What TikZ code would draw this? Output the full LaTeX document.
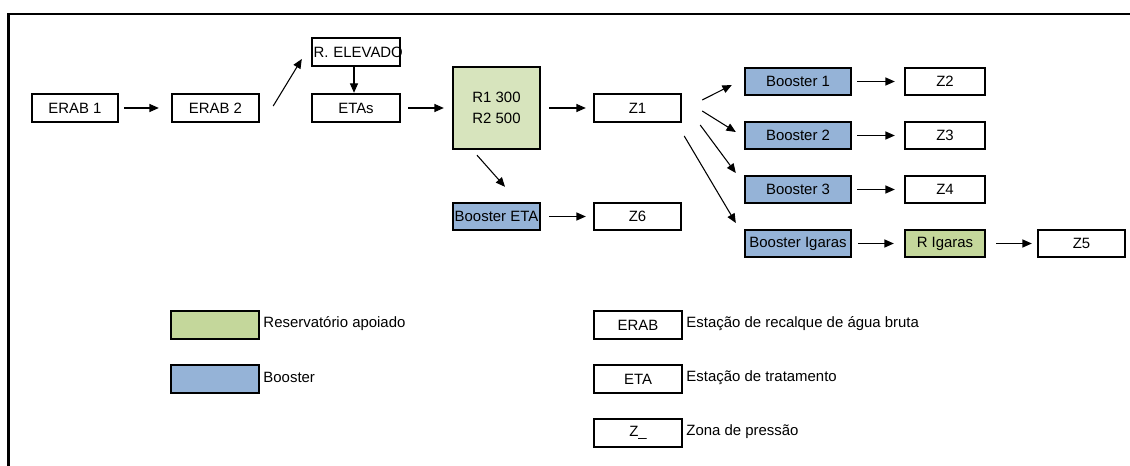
\documentclass[tikz,border=0pt]{standalone}
\usepackage{fontspec}
\setmainfont{Liberation Sans}
\usetikzlibrary{arrows.meta}
\definecolor{resgreen}{HTML}{D7E4BD}
\definecolor{legreen}{HTML}{C4D79B}
\definecolor{boostblue}{HTML}{95B3D7}
\begin{document}
\begin{tikzpicture}[x=0.75pt,y=-0.75pt,
  font=\fontsize{11.2}{13.5}\selectfont,
  box/.style={draw=black, line width=1.8pt, inner sep=0pt, text=black},
  wh/.style 2 args={minimum width=#1*0.75pt, minimum height=#2*0.75pt},
  arr/.style={-{Triangle[length=7pt,width=6pt]}, line width=0.8pt},
  lbl/.style={anchor=west, inner sep=0pt}]
\useasboundingbox (0,0) rectangle (1130,466);
% frame
\draw[line width=1.6pt] (1130,14) -- (8.5,14) -- (8.5,466);
% main nodes
\node[box, wh={86}{28}] (erab1) at (75,108) {ERAB 1};
\node[box, wh={87}{28}] (erab2) at (215.5,108) {ERAB 2};
\node[box, wh={88}{28}, text width=85*0.75pt, align=left] (relev) at (356,52) {\mbox{R. ELEVADO}};
\node[box, wh={88}{28}] (etas) at (356,108) {ETAs};
\node[box, fill=resgreen, wh={87}{82}, align=center, font=\fontsize{11.2}{15.75}\selectfont] (res) at (496.5,108) {R1 300\\R2 500};
\node[box, fill=boostblue, wh={87}{27}] (beta) at (496.5,216.5) {Booster ETA};
\node[box, wh={87}{28}] (z1) at (637.5,108) {Z1};
\node[box, wh={87}{27}] (z6) at (637.5,216.5) {Z6};
\node[box, fill=boostblue, wh={106}{27}] (b1) at (798,81.5) {Booster 1};
\node[box, fill=boostblue, wh={106}{27}] (b2) at (798,135.5) {Booster 2};
\node[box, fill=boostblue, wh={106}{27}] (b3) at (798,189.5) {Booster 3};
\node[box, fill=boostblue, wh={106}{27}] (big) at (798,243.5) {Booster Igaras};
\node[box, wh={80}{27}] (z2) at (945,81.5) {Z2};
\node[box, wh={80}{27}] (z3) at (945,135.5) {Z3};
\node[box, wh={80}{27}] (z4) at (945,189.5) {Z4};
\node[box, fill=legreen, wh={80}{27}] (rig) at (945,243.5) {R Igaras};
\node[box, wh={87}{27}] (z5) at (1081.5,243.5) {Z5};
% arrows
\draw[arr] ([shift={(5,0)}]erab1.east) -- ([shift={(-12,0)}]erab2.west);
\draw[arr] ([shift={(13,-2)}]erab2.east) -- ([shift={(-9,7)}]relev.west);
\draw[arr] ([shift={(-2,0)}]relev.south) -- ([shift={(-2,0)}]etas.north);
\draw[arr] ([shift={(7,0)}]etas.east) -- ([shift={(-8,0)}]res.west);
\draw[arr] ([shift={(-19.5,5)}]res.south) -- ([shift={(8.5,-15)}]beta.north);
\draw[arr] ([shift={(8,0)}]res.east) -- ([shift={(-7,0)}]z1.west);
\draw[arr] ([shift={(8,0)}]beta.east) -- ([shift={(-7,0)}]z6.west);
\draw[arr] ([shift={(20,-8)}]z1.east) -- ([shift={(-12,3.5)}]b1.west);
\draw[arr] ([shift={(20,3)}]z1.east) -- ([shift={(-8,-3.5)}]b2.west);
\draw[arr] ([shift={(18,17)}]z1.east) -- ([shift={(-8,-16.5)}]b3.west);
\draw[arr] ([shift={(2,28)}]z1.east) -- ([shift={(-8,-20.5)}]big.west);
\draw[arr] ([shift={(5,0)}]b1.east) -- ([shift={(-9,0)}]z2.west);
\draw[arr] ([shift={(5,0)}]b2.east) -- ([shift={(-9,0)}]z3.west);
\draw[arr] ([shift={(5,0)}]b3.east) -- ([shift={(-9,0)}]z4.west);
\draw[arr] ([shift={(6,0)}]big.east) -- ([shift={(-10,0)}]rig.west);
\draw[arr] ([shift={(10,0)}]rig.east) -- ([shift={(-5,0)}]z5.west);
% legend
\node[box, fill=legreen, wh={88}{28}] (lgreen) at (215,325) {};
\node[lbl] (tgreen) at ([xshift=2.25pt,yshift=1pt]lgreen.east) {Reservatório apoiado};
\node[box, fill=boostblue, wh={88}{28}] (lblue) at (215,379) {};
\node[lbl] (tblue) at ([xshift=2.25pt,yshift=1pt]lblue.east) {Booster};
\node[box, wh={88}{28}] (lerab) at (638,325) {ERAB};
\node[lbl] (terab) at ([xshift=2.25pt,yshift=1pt]lerab.east) {Estação de recalque de água bruta};
\node[box, wh={88}{28}] (leta) at (638,379) {ETA};
\node[lbl] (teta) at ([xshift=2.25pt,yshift=1pt]leta.east) {Estação de tratamento};
\node[box, wh={88}{28}] (lz) at (638,433) {Z\_};
\node[lbl] (tz) at ([xshift=2.25pt,yshift=1pt]lz.east) {Zona de pressão};
\end{tikzpicture}
\end{document}
